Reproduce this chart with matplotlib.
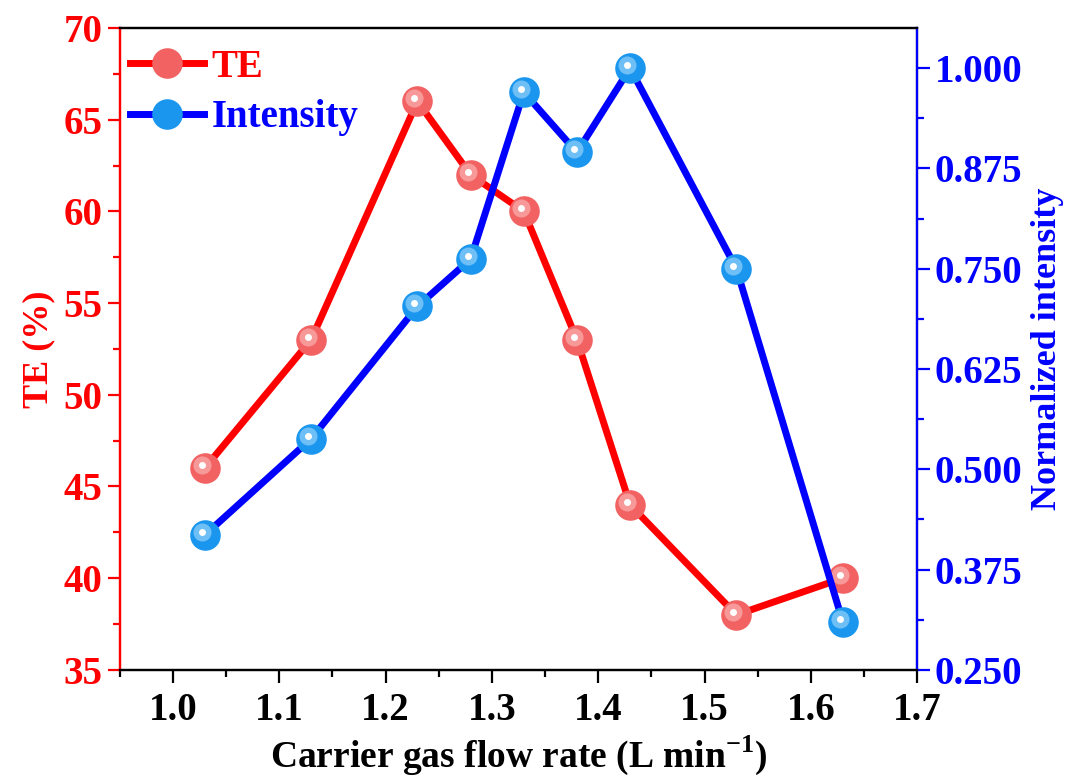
import numpy as np
import matplotlib
matplotlib.use("Agg")
import matplotlib.pyplot as plt
from matplotlib.ticker import MultipleLocator, FormatStrFormatter
from matplotlib.transforms import offset_copy
from matplotlib.lines import Line2D

plt.rcParams['font.family'] = ['Liberation Serif', 'DejaVu Serif']
plt.rcParams['font.weight'] = 'bold'
plt.rcParams['mathtext.fontset'] = 'custom'
plt.rcParams['mathtext.rm'] = 'Liberation Serif:bold'
plt.rcParams['mathtext.bf'] = 'Liberation Serif:bold'

# data
flow = [1.03, 1.13, 1.23, 1.28, 1.33, 1.38, 1.43, 1.53, 1.63]
te = [46, 53, 66, 62, 60, 53, 44, 38, 40]
intensity = [0.418, 0.538, 0.703, 0.762, 0.970, 0.895, 1.000, 0.750, 0.310]

red = '#ff0000'
blue = '#0000ff'
red_ball = '#f26262'
blue_ball = '#1a96ee'

fig = plt.figure(figsize=(10.69, 7.78), dpi=100)
ax = fig.add_axes([0.112, 0.139, 0.746, 0.825])
ax2 = ax.twinx()


def balls(a, x, y, face, light):
    a.plot(x, y, 'o', ms=22, mfc=face, mec='none', zorder=3)
    hl = offset_copy(a.transData, fig=fig, x=-3, y=3, units='dots')
    a.plot(x, y, 'o', ms=13, mfc=light, mec='none', alpha=0.5, transform=hl, zorder=4)
    a.plot(x, y, 'o', ms=5, mfc='white', mec='none', transform=hl, zorder=5)


ax.plot(flow, te, '-', color=red, lw=5, zorder=2)
balls(ax, flow, te, red_ball, '#ffd0d0')
ax2.plot(flow, intensity, '-', color=blue, lw=5, zorder=2)
balls(ax2, flow, intensity, blue_ball, '#c0e8ff')

ax.set_xlim(0.95, 1.7)
ax.set_ylim(35, 70)
ax2.set_ylim(0.25, 1.05)

ax.xaxis.set_major_locator(MultipleLocator(0.1))
ax.xaxis.set_minor_locator(MultipleLocator(0.05))
ax.xaxis.set_major_formatter(FormatStrFormatter('%.1f'))
ax.yaxis.set_major_locator(MultipleLocator(5))
ax.yaxis.set_minor_locator(MultipleLocator(2.5))
ax2.yaxis.set_major_locator(MultipleLocator(0.125))
ax2.yaxis.set_minor_locator(MultipleLocator(0.0625))
ax2.yaxis.set_major_formatter(FormatStrFormatter('%.3f'))

for a in (ax, ax2):
    for s in a.spines.values():
        s.set_linewidth(1.6)
ax.spines['left'].set_color(red)
ax2.spines['left'].set_color(red)
ax2.spines['right'].set_color(blue)

ax.tick_params(axis='x', which='major', direction='out', length=9, width=1.6, labelsize=28, pad=7)
ax.tick_params(axis='x', which='minor', direction='out', length=5, width=1.6)
ax.tick_params(axis='y', which='major', direction='out', length=9, width=1.6, labelsize=28,
               colors=red)
ax.tick_params(axis='y', which='minor', direction='out', length=5, width=1.6, colors=red)
ax2.tick_params(axis='y', which='major', direction='out', length=9, width=1.6, labelsize=28,
                colors=blue)
ax2.tick_params(axis='y', which='minor', direction='out', length=5, width=1.6, colors=blue)
ax.tick_params(top=False, which='both')

ax.set_xlabel('Carrier gas flow rate (L min$^{\\mathbf{-1}}$)', fontsize=27, fontweight='bold',
              labelpad=3)
ax.set_ylabel('TE (%)', fontsize=26, fontweight='bold', color=red, labelpad=6)
ax2.set_ylabel('Normalized intensity', fontsize=26, fontweight='bold', color=blue, labelpad=6)

handles = [
    Line2D([], [], color=red, lw=5, marker='o', ms=22, mfc=red_ball, mec='none'),
    Line2D([], [], color=blue, lw=5, marker='o', ms=22, mfc=blue_ball, mec='none'),
]
leg = ax.legend(handles, ['TE', 'Intensity'], loc='upper left', bbox_to_anchor=(0.003, 0.98),
                frameon=False, fontsize=28, handlelength=1.9, handletextpad=0.2,
                borderaxespad=0.0, labelspacing=0.35, borderpad=0.2)
for t, c in zip(leg.get_texts(), (red, blue)):
    t.set_color(c)
    t.set_fontweight('bold')

fig.savefig('out.png', dpi=100)
